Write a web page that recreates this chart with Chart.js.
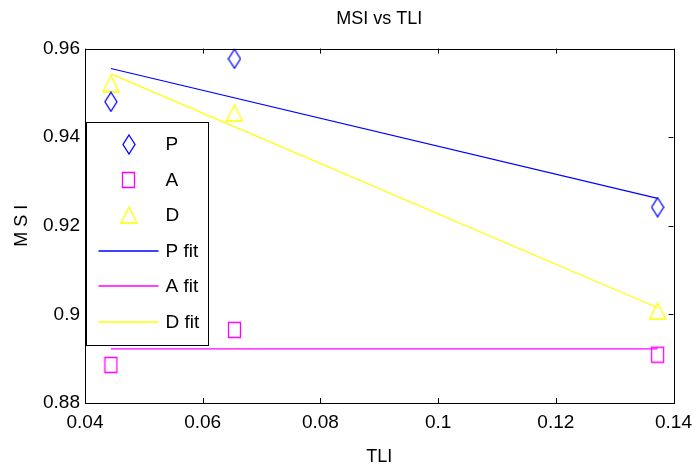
<!DOCTYPE html>
<html lang="en">
<head>
<meta charset="utf-8">
<title>MSI vs TLI</title>
<script src="https://cdn.jsdelivr.net/npm/chart.js"></script>
<style>
    body { margin: 0; padding: 0; background: #fff; }
    #wrap { width: 700px; height: 469px; }
</style>
</head>
<body>
<div id="wrap"><canvas id="msiChart" width="700" height="469"></canvas></div>
<script>
    // values
    const tli = [0.0444, 0.0654, 0.1373];
    const msiP = [0.9480, 0.9577, 0.9242];
    const msiA = [0.8886, 0.8965, 0.8909];
    const msiD = [0.9521, 0.9455, 0.9008];

    // fitted lines (end points)
    const fitTli = [0.0444, 0.1373];
    const fitP = [0.9555, 0.9262];
    const fitA = [0.8922, 0.8922];
    const fitD = [0.9543, 0.9015];

    const xTicks = [0.04, 0.06, 0.08, 0.1, 0.12, 0.14];
    const xTickLabels = ['0.04', '0.06', '0.08', '0.1', '0.12', '0.14'];
    const yTicks = [0.88, 0.9, 0.92, 0.94, 0.96];
    const yTickLabels = ['0.88', '0.9', '0.92', '0.94', '0.96'];

    const FONT = '"Liberation Sans", Arial, sans-serif';

    // matlab-like marker glyphs
    function makeMarker(shape, color, w, h) {
        const c = document.createElement('canvas');
        c.width = w + 2;
        c.height = h + 2;
        const g = c.getContext('2d');
        g.strokeStyle = color;
        g.lineWidth = 1.3;
        g.beginPath();
        if (shape === 'diamond') {
            g.moveTo(c.width / 2, 1);
            g.lineTo(w + 1, c.height / 2);
            g.lineTo(c.width / 2, h + 1);
            g.lineTo(1, c.height / 2);
            g.closePath();
        } else if (shape === 'square') {
            g.rect(1.5, 1.5, w - 1, h - 1);
        } else {
            g.moveTo(c.width / 2, 1);
            g.lineTo(w + 1, h + 1);
            g.lineTo(1, h + 1);
            g.closePath();
        }
        g.stroke();
        return c;
    }

    const diamond = makeMarker('diamond', '#0000ff', 12, 19);
    const square = makeMarker('square', '#ff00ff', 13, 16);
    const triangle = makeMarker('triangle', '#ffff00', 16, 16);

    const toPts = (xs, ys) => xs.map((x, i) => ({ x: x, y: ys[i] }));

    // box around plot + inward ticks on all sides
    const frameTicks = {
        id: 'frameTicks',
        afterDatasetsDraw(chart) {
            const { ctx, chartArea: a, scales: { x, y } } = chart;
            ctx.save();
            ctx.strokeStyle = '#000';
            ctx.lineWidth = 1;
            ctx.beginPath();
            x.ticks.forEach(t => {
                const px = Math.round(x.getPixelForValue(t.value)) + 0.5;
                ctx.moveTo(px, a.bottom); ctx.lineTo(px, a.bottom - 5);
                ctx.moveTo(px, a.top); ctx.lineTo(px, a.top + 5);
            });
            y.ticks.forEach(t => {
                const py = Math.round(y.getPixelForValue(t.value)) + 0.5;
                ctx.moveTo(a.left, py); ctx.lineTo(a.left + 5, py);
                ctx.moveTo(a.right, py); ctx.lineTo(a.right - 5, py);
            });
            ctx.stroke();
            ctx.strokeRect(Math.round(a.left) + 0.5, Math.round(a.top) + 0.5,
                Math.round(a.right - a.left), Math.round(a.bottom - a.top));
            ctx.restore();
        }
    };

    // legend box inside the axes, top-left
    const boxLegend = {
        id: 'boxLegend',
        afterDraw(chart) {
            const { ctx, chartArea: a } = chart;
            const left = Math.round(a.left) + 1.5, top = Math.round(a.top) + 73.5;
            const w = 122, h = 223;
            ctx.save();
            ctx.fillStyle = '#fff';
            ctx.strokeStyle = '#000';
            ctx.lineWidth = 1;
            ctx.fillRect(left, top, w, h);
            ctx.strokeRect(left, top, w, h);
            ctx.font = '19px ' + FONT;
            ctx.textBaseline = 'middle';
            chart.data.datasets.forEach((ds, i) => {
                const cy = Math.floor(top + 22 + i * 35.6);
                if (ds.showLine) {
                    ctx.strokeStyle = ds.borderColor;
                    ctx.lineWidth = 1.5;
                    ctx.beginPath();
                    ctx.moveTo(left + 12, cy);
                    ctx.lineTo(left + 72, cy);
                    ctx.stroke();
                } else {
                    const img = ds.pointStyle;
                    ctx.drawImage(img, Math.round(left + 42 - img.width / 2), Math.round(cy - img.height / 2));
                }
                ctx.fillStyle = '#000';
                ctx.fillText(ds.label, left + 79, cy + 1);
            });
            ctx.restore();
        }
    };

    const ctx = document.getElementById('msiChart').getContext('2d');
    new Chart(ctx, {
        type: 'scatter',
        data: {
            datasets: [
                { label: 'P', data: toPts(tli, msiP), pointStyle: diamond, pointRadius: 6, showLine: false },
                { label: 'A', data: toPts(tli, msiA), pointStyle: square, pointRadius: 6, showLine: false },
                { label: 'D', data: toPts(tli, msiD), pointStyle: triangle, pointRadius: 6, showLine: false },
                { label: 'P fit', data: toPts(fitTli, fitP), showLine: true, borderColor: '#0000ff', borderWidth: 1.2, pointRadius: 0 },
                { label: 'A fit', data: toPts(fitTli, fitA), showLine: true, borderColor: '#ff00ff', borderWidth: 1.2, pointRadius: 0 },
                { label: 'D fit', data: toPts(fitTli, fitD), showLine: true, borderColor: '#ffff00', borderWidth: 1.2, pointRadius: 0 }
            ]
        },
        options: {
            responsive: false,
            animation: false,
            devicePixelRatio: 1,
            layout: { padding: { left: 0, right: 20, top: 0, bottom: 0 } },
            plugins: {
                legend: { display: false },
                tooltip: { enabled: false },
                title: {
                    display: true,
                    fullSize: false,
                    text: 'MSI vs TLI',
                    color: '#000',
                    font: { family: FONT, size: 18, weight: 'normal' },
                    padding: { top: 8, bottom: 19 }
                }
            },
            scales: {
                x: {
                    type: 'linear',
                    min: 0.04,
                    max: 0.14,
                    afterBuildTicks: s => { s.ticks = xTicks.map(v => ({ value: v })); },
                    afterFit: s => { s.height = 66; },
                    grid: { display: false, drawTicks: false },
                    border: { display: false },
                    ticks: {
                        color: '#000',
                        padding: 8,
                        maxRotation: 0,
                        font: { family: FONT, size: 19 },
                        callback: (v, i) => xTickLabels[i]
                    },
                    title: {
                        display: true,
                        text: 'TLI',
                        color: '#000',
                        font: { family: FONT, size: 18 },
                        padding: { top: 0, bottom: 1 }
                    }
                },
                y: {
                    type: 'linear',
                    min: 0.88,
                    max: 0.96,
                    afterBuildTicks: s => { s.ticks = yTicks.map(v => ({ value: v })); },
                    afterFit: s => { s.width = 85; },
                    grid: { display: false, drawTicks: false },
                    border: { display: false },
                    ticks: {
                        color: '#000',
                        padding: 5,
                        font: { family: FONT, size: 19 },
                        callback: (v, i) => yTickLabels[i]
                    },
                    title: {
                        display: true,
                        text: 'M S I',
                        color: '#000',
                        font: { family: FONT, size: 18 },
                        padding: { top: 11, bottom: 0 }
                    }
                }
            }
        },
        plugins: [frameTicks, boxLegend]
    });
</script>
</body>
</html>
